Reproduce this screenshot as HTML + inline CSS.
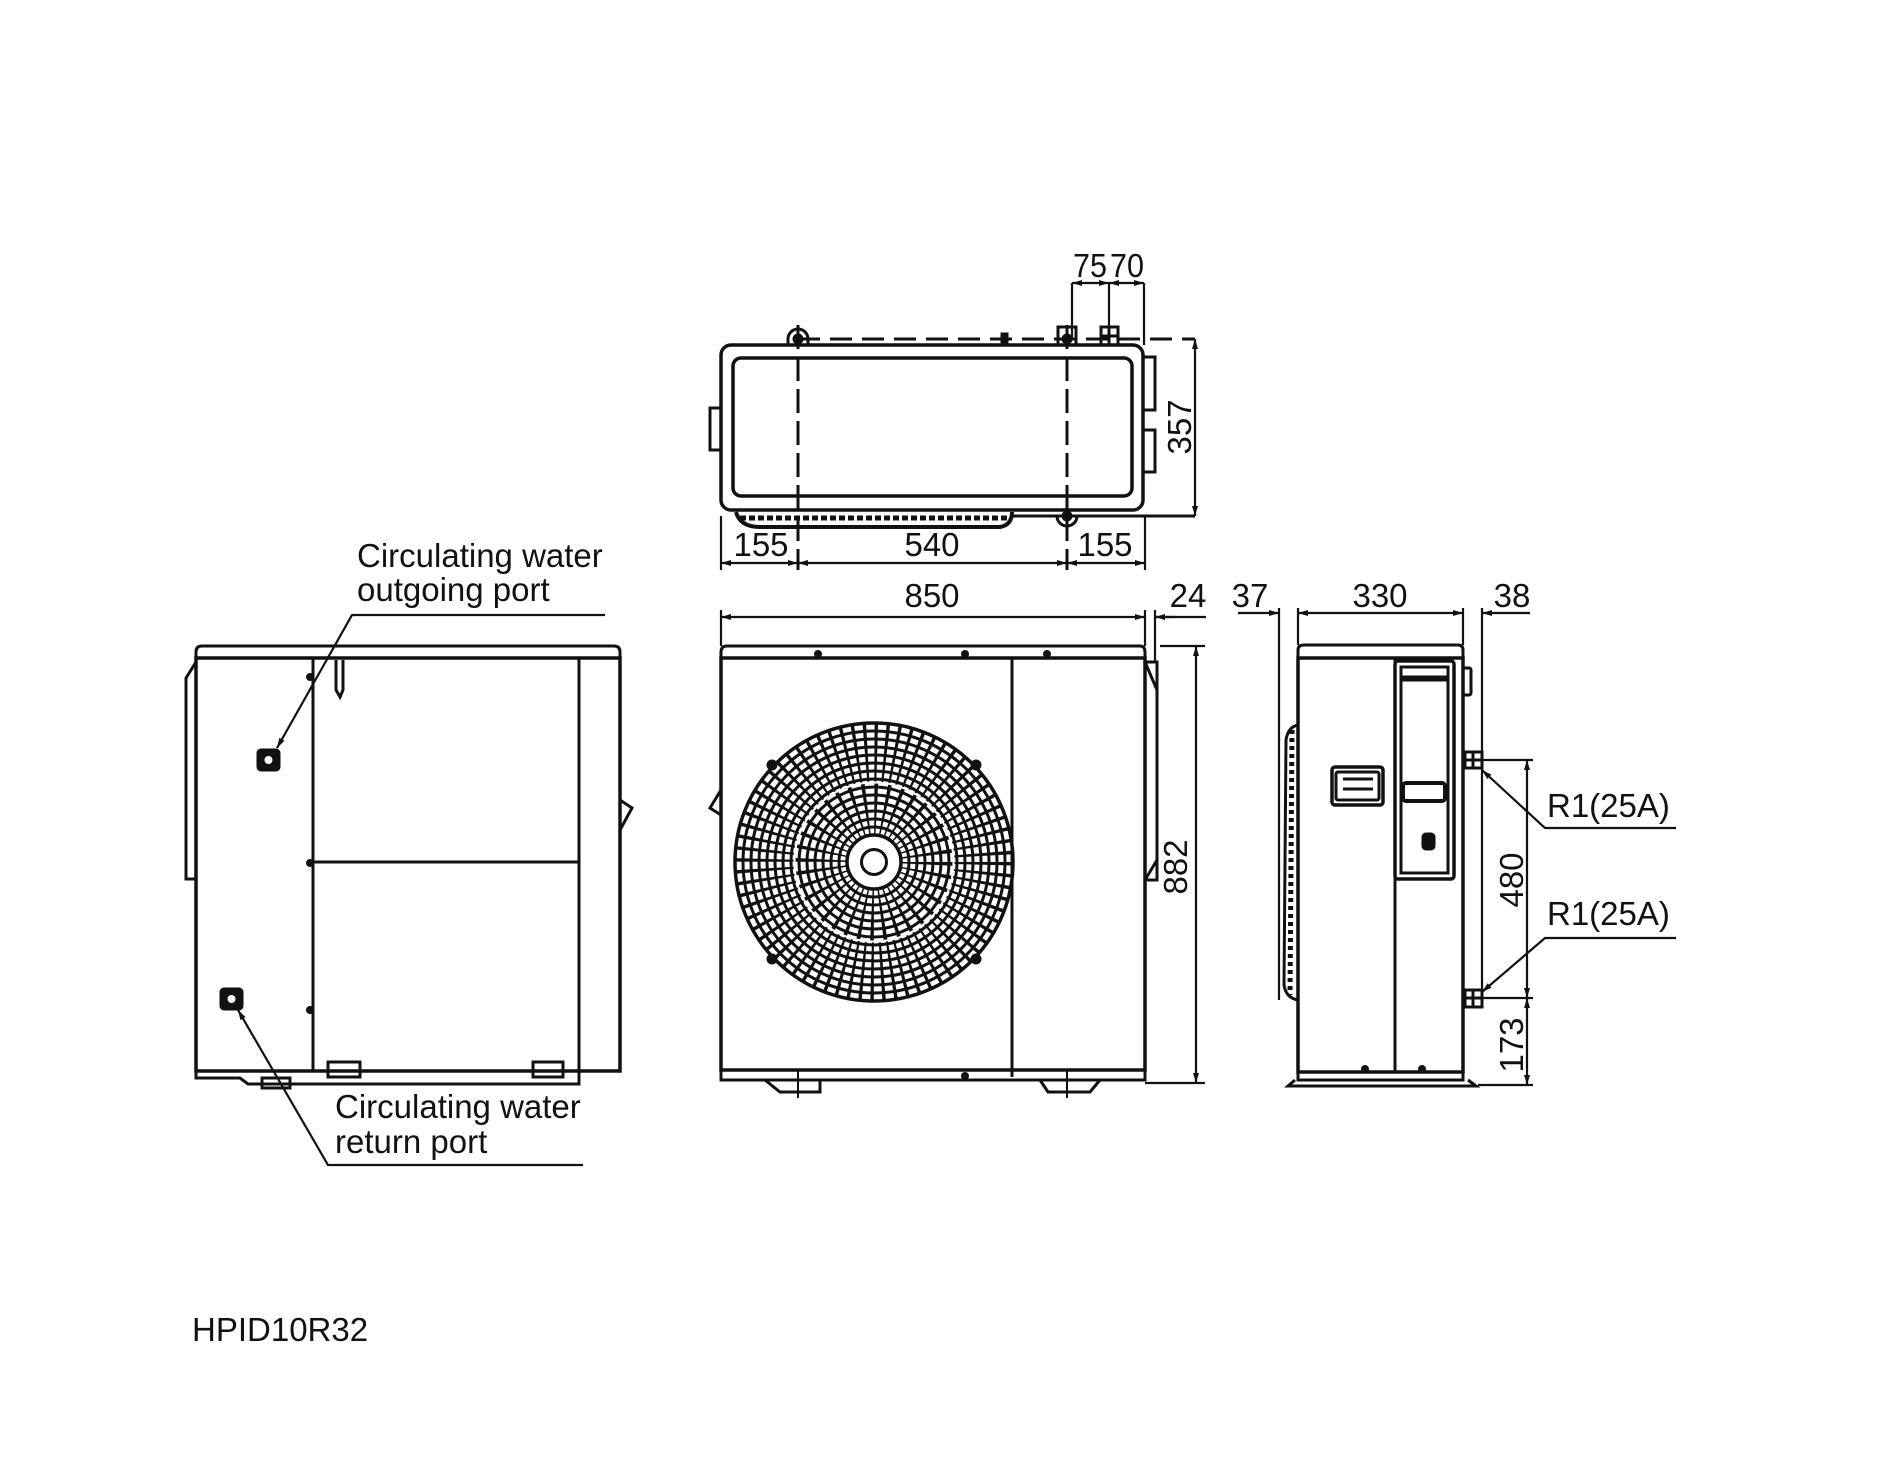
<!DOCTYPE html>
<html><head><meta charset="utf-8"><style>
html,body{margin:0;padding:0;background:#fff;}
svg{display:block;}
text{font-family:"Liberation Sans",Arial,sans-serif;fill:#111;}
</style></head><body>
<svg width="1885" height="1472" viewBox="0 0 1885 1472" xmlns="http://www.w3.org/2000/svg">
<defs>
<marker id="a" viewBox="0 0 10 6" refX="10" refY="3" markerWidth="14" markerHeight="6" markerUnits="userSpaceOnUse" orient="auto-start-reverse"><path d="M0,0 L10,3 L0,6 z" fill="#111"/></marker>
</defs>
<g fill="none" stroke="#111" stroke-width="3">

<!-- ===== TOP VIEW ===== -->
<rect x="721" y="345" width="422" height="165" rx="10" stroke-width="3.5"/>
<rect x="733" y="358" width="399" height="138" rx="8" stroke-width="3.5"/>
<rect x="710" y="408" width="11" height="42"/>
<rect x="1143" y="357" width="12" height="53"/>
<rect x="1143" y="430" width="12" height="42"/>
<line x1="798" y1="339" x2="1195" y2="339" stroke-dasharray="22,10"/>
<line x1="798" y1="325" x2="798" y2="570" stroke-dasharray="24,8"/>
<line x1="1067" y1="325" x2="1067" y2="570" stroke-dasharray="24,8"/>
<path d="M788,345 v-6 a10,10 0 0 1 20,0 v6"/>
<circle cx="798" cy="339" r="4" fill="#111"/>
<rect x="1058" y="327" width="18" height="18"/>
<circle cx="1067" cy="339" r="4" fill="#111"/>
<rect x="1101" y="327" width="17" height="18"/>
<line x1="1109" y1="327" x2="1109" y2="345"/>
<line x1="1101" y1="336" x2="1118" y2="336"/>
<rect x="1002" y="334" width="5" height="8" fill="#111"/>
<path d="M1057,516 a10,10 0 0 0 20,0"/>
<circle cx="1067" cy="516" r="4" fill="#111"/>
<line x1="1010" y1="516" x2="1195" y2="516"/>
<path d="M736,512 Q740,527 760,527 L1000,527 Q1012,525 1012,512" stroke-width="4"/>
<path d="M740,518 L1008,518" stroke-dasharray="6,3" stroke-width="5"/>
<!-- top dims -->
<line x1="1072" y1="283" x2="1072" y2="339" stroke-width="2.2"/>
<line x1="1109" y1="283" x2="1109" y2="327" stroke-width="2.2"/>
<line x1="1144" y1="283" x2="1144" y2="345" stroke-width="2.2"/>
<line x1="1072" y1="283" x2="1109" y2="283" stroke-width="2.2" marker-start="url(#a)" marker-end="url(#a)"/>
<line x1="1109" y1="283" x2="1144" y2="283" stroke-width="2.2" marker-start="url(#a)" marker-end="url(#a)"/>
<line x1="1195" y1="339" x2="1195" y2="516" stroke-width="2.2" marker-start="url(#a)" marker-end="url(#a)"/>
<line x1="721" y1="516" x2="721" y2="570" stroke-width="2.2"/>
<line x1="1145" y1="516" x2="1145" y2="570" stroke-width="2.2"/>
<line x1="721" y1="563" x2="798" y2="563" stroke-width="2.2" marker-start="url(#a)" marker-end="url(#a)"/>
<line x1="798" y1="563" x2="1067" y2="563" stroke-width="2.2" marker-start="url(#a)" marker-end="url(#a)"/>
<line x1="1067" y1="563" x2="1145" y2="563" stroke-width="2.2" marker-start="url(#a)" marker-end="url(#a)"/>

<!-- ===== FRONT VIEW ===== -->
<path d="M721,658 L721,652 Q721,646 727,646 L1140,646 Q1145,646 1145,652 L1145,658 Z"/>
<rect x="721" y="658" width="424" height="412" stroke-width="3.5"/>
<line x1="1012" y1="658" x2="1012" y2="1077"/>
<rect x="1145" y="662" width="12" height="218"/>
<path d="M1145,662 L1157,690 M1145,880 L1157,860"/>
<path d="M721,790 L710,808 L721,815"/>
<circle cx="818" cy="654" r="2.5" fill="#111"/><circle cx="965" cy="654" r="2.5" fill="#111"/><circle cx="1047" cy="654" r="2.5" fill="#111"/>
<path d="M721,1070 L721,1080 L1145,1080 L1145,1070"/>
<path d="M765,1080 L780,1092 L820,1092 L820,1080 M1040,1080 L1048,1092 L1090,1092 L1100,1080"/>
<line x1="798" y1="1070" x2="798" y2="1098" stroke-width="2"/>
<line x1="1067" y1="1070" x2="1067" y2="1098" stroke-width="2"/>
<circle cx="965" cy="1076" r="2.5" fill="#111"/>
<g transform="translate(874,862)">
<circle r="139" stroke-width="3.5"/>
<circle r="131"/><circle r="123"/><circle r="115"/><circle r="107"/><circle r="99"/><circle r="91"/><circle r="83"/><circle r="75"/><circle r="67"/><circle r="59"/><circle r="51"/><circle r="43"/><circle r="35"/><circle r="27" stroke-width="3.5"/>
<circle r="12.5"/>
<circle r="53.5" stroke-width="50" stroke-dasharray="2.6,6.74"/>
<circle r="109.5" stroke-width="58" stroke-dasharray="2.8,6.76"/>
<circle cx="-102" cy="-97" r="4" fill="#111"/><circle cx="102" cy="-97" r="4" fill="#111"/>
<circle cx="-102" cy="97" r="4" fill="#111"/><circle cx="102" cy="97" r="4" fill="#111"/>
</g>
<line x1="721" y1="610" x2="721" y2="646" stroke-width="2.2"/>
<line x1="1145" y1="610" x2="1145" y2="646" stroke-width="2.2"/>
<line x1="1155" y1="610" x2="1155" y2="662" stroke-width="2.2"/>
<line x1="721" y1="617" x2="1145" y2="617" stroke-width="2.2" marker-start="url(#a)" marker-end="url(#a)"/>
<line x1="1175" y1="617" x2="1155" y2="617" stroke-width="2.2" marker-end="url(#a)"/>
<line x1="1155" y1="617" x2="1206" y2="617" stroke-width="2.2"/>
<line x1="1160" y1="646" x2="1205" y2="646" stroke-width="2.2"/>
<line x1="1145" y1="1083" x2="1205" y2="1083" stroke-width="2.2"/>
<line x1="1196" y1="646" x2="1196" y2="1083" stroke-width="2.2" marker-start="url(#a)" marker-end="url(#a)"/>

<!-- ===== LEFT VIEW ===== -->
<path d="M196,658 L196,652 Q196,646 202,646 L614,646 Q620,646 620,652 L620,658 Z"/>
<rect x="196" y="658" width="424" height="413" stroke-width="3.5"/>
<line x1="313" y1="658" x2="313" y2="1071"/>
<line x1="579" y1="658" x2="579" y2="1071"/>
<line x1="313" y1="862" x2="579" y2="862"/>
<path d="M196,662 L186,678 L186,879 L196,879"/>
<path d="M620,800 L632,808 L620,830"/>
<path d="M336,660 L336,690 L340,697 L343,690 L343,660"/>
<rect x="258" y="750" width="21" height="20" rx="3" fill="#111"/>
<circle cx="268.5" cy="760" r="4" fill="#fff" stroke="none"/>
<rect x="221" y="989" width="21" height="20" rx="3" fill="#111"/>
<circle cx="231.5" cy="999" r="4" fill="#fff" stroke="none"/>
<circle cx="310" cy="677" r="2.5" fill="#111"/><circle cx="310" cy="863" r="2.5" fill="#111"/><circle cx="310" cy="1010" r="2.5" fill="#111"/>
<path d="M196,1071 L196,1078 L240,1078 L248,1084 L579,1084 L579,1071"/>
<rect x="328" y="1062" width="32" height="15"/>
<rect x="533" y="1062" width="30" height="15"/>
<rect x="262" y="1078" width="28" height="10"/>
<line x1="360" y1="1071" x2="533" y2="1071"/>
<polyline points="605,615 352,615 277,748" stroke-width="2.2" marker-end="url(#a)"/>
<polyline points="583,1165 328,1165 238,1010" stroke-width="2.2" marker-end="url(#a)"/>

<!-- ===== SIDE VIEW ===== -->
<path d="M1298,658 L1298,650 Q1298,645 1304,645 L1458,645 Q1463,645 1463,650 L1463,658 Z"/>
<rect x="1298" y="658" width="165" height="414" stroke-width="3.5"/>
<line x1="1395" y1="658" x2="1395" y2="1072"/>
<rect x="1395" y="661" width="59" height="218" rx="3" stroke-width="3.5"/>
<rect x="1401" y="667" width="47" height="206"/>
<line x1="1401" y1="677" x2="1448" y2="677"/>
<line x1="1401" y1="680" x2="1448" y2="680"/>
<rect x="1332" y="767" width="51" height="38" rx="3" stroke-width="3.5"/>
<rect x="1336" y="772" width="43" height="28" rx="2"/>
<line x1="1343" y1="779" x2="1373" y2="779"/>
<line x1="1343" y1="789" x2="1373" y2="789"/>
<rect x="1403" y="783" width="42" height="18" rx="3" stroke-width="4"/>
<rect x="1423" y="834" width="11" height="15" rx="3" fill="#111"/>
<path d="M1298,725 Q1288,727 1286,740 L1284,985 Q1286,998 1298,1000" stroke-width="3"/>
<path d="M1292,730 L1290,995" stroke-width="5" stroke-dasharray="4,4"/>
<rect x="1463" y="668" width="8" height="27" rx="2"/>
<rect x="1465" y="752" width="17" height="16"/><line x1="1473" y1="752" x2="1473" y2="768"/><line x1="1465" y1="760" x2="1482" y2="760"/>
<rect x="1465" y="990" width="17" height="17"/><line x1="1473" y1="990" x2="1473" y2="1007"/><line x1="1465" y1="998" x2="1482" y2="998"/>
<path d="M1298,1072 L1298,1080 L1463,1080 L1463,1072"/>
<path d="M1295,1080 L1288,1086 L1476,1086 L1468,1080" stroke-width="3"/>
<circle cx="1365" cy="1069" r="2.5" fill="#111"/><circle cx="1422" cy="1069" r="2.5" fill="#111"/>
<line x1="1279" y1="608" x2="1279" y2="1000" stroke-width="2.2"/>
<line x1="1298" y1="608" x2="1298" y2="645" stroke-width="2.2"/>
<line x1="1463" y1="608" x2="1463" y2="645" stroke-width="2.2"/>
<line x1="1482" y1="608" x2="1482" y2="1005" stroke-width="2.2"/>
<line x1="1238" y1="613" x2="1279" y2="613" stroke-width="2.2" marker-end="url(#a)"/>
<line x1="1298" y1="613" x2="1463" y2="613" stroke-width="2.2" marker-start="url(#a)" marker-end="url(#a)"/>
<line x1="1530" y1="613" x2="1482" y2="613" stroke-width="2.2" marker-end="url(#a)"/>
<line x1="1482" y1="760" x2="1533" y2="760" stroke-width="2.2"/>
<line x1="1482" y1="998" x2="1533" y2="998" stroke-width="2.2"/>
<line x1="1478" y1="1085" x2="1533" y2="1085" stroke-width="2.2"/>
<line x1="1527" y1="760" x2="1527" y2="998" stroke-width="2.2" marker-start="url(#a)" marker-end="url(#a)"/>
<line x1="1527" y1="998" x2="1527" y2="1085" stroke-width="2.2" marker-start="url(#a)" marker-end="url(#a)"/>
<polyline points="1676,828 1545,828 1482,770" stroke-width="2.2" marker-end="url(#a)"/>
<polyline points="1676,938 1545,938 1482,992" stroke-width="2.2" marker-end="url(#a)"/>
</g>

<g font-size="33">
<text x="1090" y="277" text-anchor="middle" textLength="34" lengthAdjust="spacingAndGlyphs">75</text>
<text x="1127" y="277" text-anchor="middle" textLength="34" lengthAdjust="spacingAndGlyphs">70</text>
<text x="761" y="556" text-anchor="middle">155</text>
<text x="932" y="556" text-anchor="middle">540</text>
<text x="1105" y="556" text-anchor="middle">155</text>
<text transform="translate(1191,427) rotate(-90)" text-anchor="middle">357</text>
<text x="932" y="607" text-anchor="middle">850</text>
<text x="1188" y="607" text-anchor="middle">24</text>
<text x="1250" y="607" text-anchor="middle">37</text>
<text x="1380" y="607" text-anchor="middle">330</text>
<text x="1512" y="607" text-anchor="middle">38</text>
<text transform="translate(1187,867) rotate(-90)" text-anchor="middle">882</text>
<text transform="translate(1523,880) rotate(-90)" text-anchor="middle">480</text>
<text transform="translate(1523,1045) rotate(-90)" text-anchor="middle">173</text>
<text x="1547" y="817">R1(25A)</text>
<text x="1547" y="925">R1(25A)</text>
<text x="357" y="567">Circulating water</text>
<text x="357" y="601">outgoing port</text>
<text x="335" y="1118">Circulating water</text>
<text x="335" y="1153">return port</text>
<text x="192" y="1341">HPID10R32</text>
</g>
</svg>
</body></html>
